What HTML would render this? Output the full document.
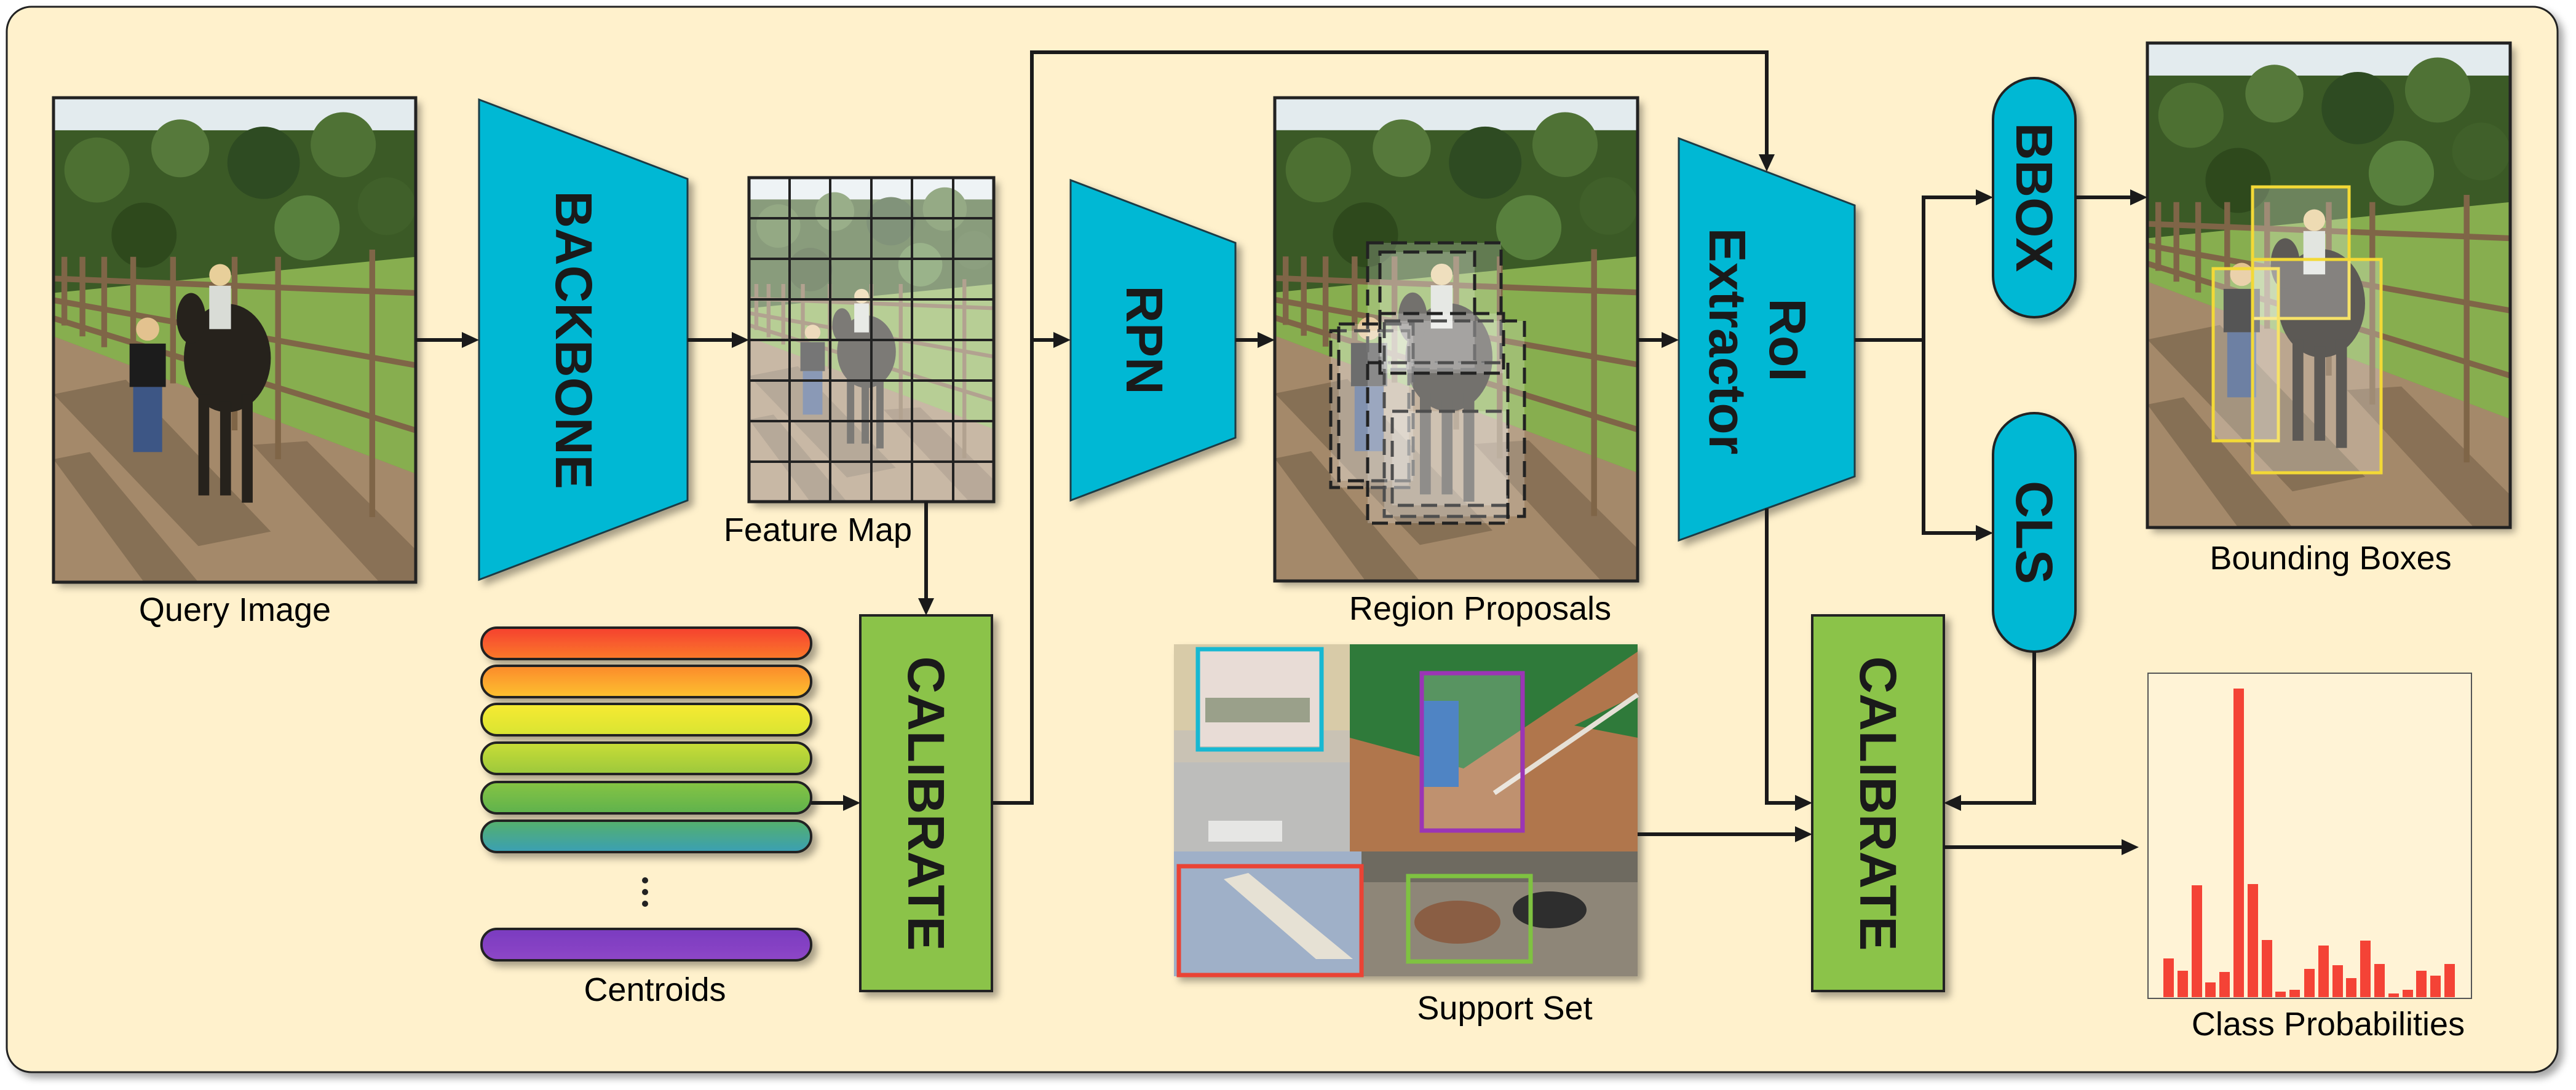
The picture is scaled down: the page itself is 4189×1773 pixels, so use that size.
<!DOCTYPE html>
<html><head><meta charset="utf-8"><style>
html,body{margin:0;padding:0;background:#fff;}
svg{display:block;}
text{font-family:"Liberation Sans",sans-serif;}
</style></head><body>
<svg width="4189" height="1773" viewBox="0 0 4189 1773" xmlns="http://www.w3.org/2000/svg">
<defs>
<filter id="sh" x="-10%" y="-10%" width="130%" height="130%">
<feDropShadow dx="8" dy="8" stdDeviation="6" flood-color="#000" flood-opacity="0.35"/>
</filter>
<marker id="ar" markerWidth="10" markerHeight="10" refX="9" refY="5" orient="auto" markerUnits="userSpaceOnUse" viewBox="0 0 10 10">
</marker>
<symbol id="scene" viewBox="0 0 100 134" preserveAspectRatio="none">
<rect width="100" height="134" fill="#6f8f42"/>
<rect width="100" height="14" fill="#e3ebee"/>
<rect y="9" width="100" height="45" fill="#3b5a28"/>
<circle cx="12" cy="20" r="9" fill="#4d6f33"/><circle cx="35" cy="14" r="8" fill="#56793a"/><circle cx="58" cy="18" r="10" fill="#2f4b20"/><circle cx="80" cy="13" r="9" fill="#4f7236"/><circle cx="92" cy="30" r="8" fill="#3f6029"/><circle cx="25" cy="38" r="9" fill="#2e4a1f"/><circle cx="70" cy="36" r="9" fill="#58803c"/>
<polygon points="0,54 100,44 100,104 0,66" fill="#87ae50"/>
<polygon points="0,66 100,104 100,134 0,134" fill="#a4896a"/>
<polygon points="0,82 20,78 60,120 40,124" fill="#6e5a42" opacity="0.55"/>
<polygon points="0,100 10,98 40,134 25,134" fill="#6e5a42" opacity="0.55"/>
<polygon points="55,96 70,95 100,125 100,134 90,134" fill="#6e5a42" opacity="0.5"/>
<g stroke="#7f6546" stroke-width="1.6" fill="none">
<line x1="0" y1="50" x2="100" y2="54"/><line x1="0" y1="56" x2="100" y2="74"/><line x1="0" y1="61" x2="100" y2="92"/>
<line x1="3" y1="44" x2="3" y2="63"/><line x1="8" y1="44" x2="8" y2="66"/><line x1="14" y1="44" x2="14" y2="69"/><line x1="22" y1="44" x2="22" y2="72"/><line x1="33" y1="44" x2="33" y2="79"/><line x1="50" y1="44" x2="50" y2="92"/><line x1="62" y1="44" x2="62" y2="100"/><line x1="88" y1="42" x2="88" y2="116"/>
</g>
<ellipse cx="48" cy="72" rx="12" ry="15" fill="#25221f"/>
<ellipse cx="38" cy="61" rx="4" ry="7" fill="#25221f"/>
<rect x="40" y="82" width="3" height="28" fill="#25221f"/><rect x="52" y="82" width="3" height="30" fill="#25221f"/><rect x="46" y="84" width="3" height="26" fill="#25221f"/>
<rect x="43" y="52" width="6" height="12" fill="#d9dcd6"/><circle cx="46" cy="49" r="3" fill="#e8cf9a"/>
<rect x="21" y="68" width="10" height="12" fill="#1b1b1b"/><rect x="22" y="80" width="8" height="18" fill="#3c5785"/><circle cx="26" cy="64" r="3.2" fill="#e3c28f"/>
</symbol>
</defs>

<!-- panel -->
<rect x="11" y="11" width="4148" height="1733" rx="40" fill="#fff1cc" stroke="#222" stroke-width="3" filter="url(#sh)"/>

<!-- Query image -->
<g filter="url(#sh)"><use href="#scene" x="87" y="159" width="589" height="788"/></g>
<rect x="87" y="159" width="589" height="788" fill="none" stroke="#222" stroke-width="5"/>
<text x="382" y="1010" font-size="54" text-anchor="middle">Query Image</text>

<!-- Backbone -->
<polygon points="779,162 1118,291 1118,814 779,943" fill="#00b8d4" stroke="#1a3a44" stroke-width="3" filter="url(#sh)"/>
<text transform="translate(933,553) rotate(90)" font-size="84" font-weight="bold" text-anchor="middle" dominant-baseline="central" fill="#1a1a1a">BACKBONE</text>

<!-- Feature map -->
<g filter="url(#sh)"><use href="#scene" x="1218" y="289" width="398" height="527"/></g>
<rect x="1218" y="289" width="398" height="527" fill="#fff" opacity="0.4"/>
<g stroke="#222" stroke-width="4">
<line x1="1284" y1="289" x2="1284" y2="816"/><line x1="1350" y1="289" x2="1350" y2="816"/><line x1="1417" y1="289" x2="1417" y2="816"/><line x1="1483" y1="289" x2="1483" y2="816"/><line x1="1550" y1="289" x2="1550" y2="816"/>
<line x1="1218" y1="355" x2="1616" y2="355"/><line x1="1218" y1="421" x2="1616" y2="421"/><line x1="1218" y1="487" x2="1616" y2="487"/><line x1="1218" y1="553" x2="1616" y2="553"/><line x1="1218" y1="619" x2="1616" y2="619"/><line x1="1218" y1="685" x2="1616" y2="685"/><line x1="1218" y1="751" x2="1616" y2="751"/>
</g>
<rect x="1218" y="289" width="398" height="527" fill="none" stroke="#222" stroke-width="5"/>
<text x="1330" y="880" font-size="54" text-anchor="middle">Feature Map</text>

<!-- Centroids -->
<defs>
<linearGradient id="g1" x1="0" y1="0" x2="0" y2="1"><stop offset="0" stop-color="#f5402f"/><stop offset="1" stop-color="#fb7a2b"/></linearGradient>
<linearGradient id="g2" x1="0" y1="0" x2="0" y2="1"><stop offset="0" stop-color="#fb8a2c"/><stop offset="1" stop-color="#fdc12e"/></linearGradient>
<linearGradient id="g3" x1="0" y1="0" x2="0" y2="1"><stop offset="0" stop-color="#f8ea30"/><stop offset="1" stop-color="#d8e431"/></linearGradient>
<linearGradient id="g4" x1="0" y1="0" x2="0" y2="1"><stop offset="0" stop-color="#c9dd36"/><stop offset="1" stop-color="#9cc83c"/></linearGradient>
<linearGradient id="g5" x1="0" y1="0" x2="0" y2="1"><stop offset="0" stop-color="#86c442"/><stop offset="1" stop-color="#5fb24e"/></linearGradient>
<linearGradient id="g6" x1="0" y1="0" x2="0" y2="1"><stop offset="0" stop-color="#55b06c"/><stop offset="1" stop-color="#3a9fb4"/></linearGradient>
<linearGradient id="g7" x1="0" y1="0" x2="0" y2="1"><stop offset="0" stop-color="#7a3cc0"/><stop offset="1" stop-color="#8e46c6"/></linearGradient>
</defs>
<g stroke="#222" stroke-width="4" filter="url(#sh)">
<rect x="783" y="1021" width="536" height="51" rx="25" fill="url(#g1)"/>
<rect x="783" y="1083" width="536" height="51" rx="25" fill="url(#g2)"/>
<rect x="783" y="1145" width="536" height="51" rx="25" fill="url(#g3)"/>
<rect x="783" y="1208" width="536" height="51" rx="25" fill="url(#g4)"/>
<rect x="783" y="1272" width="536" height="51" rx="25" fill="url(#g5)"/>
<rect x="783" y="1335" width="536" height="51" rx="25" fill="url(#g6)"/>
<rect x="783" y="1511" width="536" height="51" rx="25" fill="url(#g7)"/>
</g>
<g fill="#222"><circle cx="1049" cy="1432" r="5"/><circle cx="1049" cy="1451" r="5"/><circle cx="1049" cy="1470" r="5"/></g>
<text x="1065" y="1628" font-size="54" text-anchor="middle">Centroids</text>

<!-- Calibrate 1 -->
<rect x="1399" y="1001" width="214" height="611" fill="#8bc34a" stroke="#222" stroke-width="4" filter="url(#sh)"/>
<text transform="translate(1506,1307) rotate(90)" font-size="84" font-weight="bold" text-anchor="middle" dominant-baseline="central" fill="#1a1a1a">CALIBRATE</text>

<!-- RPN -->
<polygon points="1741,293 2009,395 2009,712 1741,814" fill="#00b8d4" stroke="#1a3a44" stroke-width="3" filter="url(#sh)"/>
<text transform="translate(1861,553) rotate(90)" font-size="84" font-weight="bold" text-anchor="middle" dominant-baseline="central" fill="#1a1a1a">RPN</text>

<!-- Region proposals -->
<g filter="url(#sh)"><use href="#scene" x="2073" y="159" width="590" height="786"/></g>
<g fill="#fff" fill-opacity="0.2" stroke="#222" stroke-width="5" stroke-dasharray="26,12">
<rect x="2224" y="395" width="217" height="195"/>
<rect x="2244" y="410" width="154" height="191"/>
<rect x="2164" y="538" width="127" height="255"/>
<rect x="2177" y="527" width="121" height="255"/>
<rect x="2251" y="522" width="228" height="318"/>
<rect x="2264" y="669" width="188" height="153"/>
<rect x="2224" y="590" width="228" height="261"/>
<rect x="2244" y="510" width="201" height="97"/>
</g>
<rect x="2073" y="159" width="590" height="786" fill="none" stroke="#222" stroke-width="5"/>
<text x="2407" y="1008" font-size="54" text-anchor="middle">Region Proposals</text>

<!-- RoI extractor -->
<polygon points="2730,225 3016,334 3016,775 2730,879" fill="#00b8d4" stroke="#1a3a44" stroke-width="3" filter="url(#sh)"/>
<text transform="translate(2907,553) rotate(90)" font-size="84" font-weight="bold" text-anchor="middle" dominant-baseline="central" fill="#1a1a1a">RoI</text>
<text transform="translate(2809,555) rotate(90)" font-size="84" font-weight="bold" text-anchor="middle" dominant-baseline="central" fill="#1a1a1a">Extractor</text>

<!-- BBOX / CLS -->
<rect x="3241" y="127" width="134" height="389" rx="67" fill="#00b8d4" stroke="#222" stroke-width="4" filter="url(#sh)"/>
<text transform="translate(3308,321) rotate(90)" font-size="84" font-weight="bold" text-anchor="middle" dominant-baseline="central" fill="#1a1a1a">BBOX</text>
<rect x="3241" y="672" width="134" height="388" rx="67" fill="#00b8d4" stroke="#222" stroke-width="4" filter="url(#sh)"/>
<text transform="translate(3308,866) rotate(90)" font-size="84" font-weight="bold" text-anchor="middle" dominant-baseline="central" fill="#1a1a1a">CLS</text>

<!-- Bounding boxes image -->
<g filter="url(#sh)"><use href="#scene" x="3492" y="70" width="590" height="788"/></g>
<g fill="#fff" fill-opacity="0.25" stroke="#f3d936" stroke-width="5">
<rect x="3663" y="304" width="157" height="214"/>
<rect x="3599" y="437" width="106" height="280"/>
<rect x="3663" y="422" width="209" height="347"/>
</g>
<rect x="3492" y="70" width="590" height="788" fill="none" stroke="#222" stroke-width="5"/>
<text x="3790" y="926" font-size="54" text-anchor="middle">Bounding Boxes</text>

<!-- Calibrate 2 -->
<rect x="2947" y="1001" width="214" height="611" fill="#8bc34a" stroke="#222" stroke-width="4" filter="url(#sh)"/>
<text transform="translate(3054,1307) rotate(90)" font-size="84" font-weight="bold" text-anchor="middle" dominant-baseline="central" fill="#1a1a1a">CALIBRATE</text>

<!-- Support set -->
<g filter="url(#sh)">
<rect x="1909" y="1048" width="754" height="540" fill="#8c8a85"/>
</g>
<rect x="1909" y="1048" width="286" height="337" fill="#c9c2b4"/>
<rect x="1909" y="1048" width="286" height="140" fill="#d8cba8"/>
<rect x="1909" y="1240" width="286" height="145" fill="#bdbdbb"/>
<rect x="1950" y="1058" width="198" height="156" fill="#e8dcd6"/>
<rect x="1960" y="1135" width="170" height="40" fill="#9aa08a"/>
<rect x="1965" y="1335" width="120" height="34" fill="#e6e6e4"/>
<rect x="2195" y="1048" width="468" height="337" fill="#b0764c"/>
<polygon points="2195,1048 2663,1048 2663,1060 2380,1250 2195,1200" fill="#2f7a3a"/>
<polygon points="2560,1180 2663,1130 2663,1200" fill="#2f7a3a"/>
<line x1="2430" y1="1290" x2="2663" y2="1130" stroke="#e6e0d6" stroke-width="8"/>
<rect x="1909" y="1385" width="305" height="203" fill="#9fb0c8"/>
<polygon points="1990,1430 2140,1560 2200,1560 2030,1420" fill="#e6e1d4"/>
<rect x="2214" y="1385" width="449" height="203" fill="#8e8678"/>
<rect x="2214" y="1385" width="449" height="50" fill="#6e6a60"/>
<ellipse cx="2370" cy="1500" rx="70" ry="35" fill="#8a5e44"/>
<ellipse cx="2520" cy="1480" rx="60" ry="30" fill="#2e2e2e"/>
<rect x="2312" y="1095" width="160" height="256" fill="#fff" fill-opacity="0.2"/>
<rect x="2312" y="1140" width="60" height="140" fill="#4f84c4"/>
<g fill="none" stroke-width="7">
<rect x="1948" y="1056" width="201" height="163" stroke="#17b8d2"/>
<rect x="2312" y="1095" width="164" height="256" stroke="#9b35b5"/>
<rect x="1917" y="1409" width="297" height="177" stroke="#ea4335"/>
<rect x="2290" y="1425" width="199" height="139" stroke="#7fc241"/>
</g>
<text x="2447" y="1658" font-size="54" text-anchor="middle">Support Set</text>

<!-- Class probabilities -->
<rect x="3493" y="1095" width="526" height="529" fill="#fff3d6" stroke="#555" stroke-width="2"/>
<g fill="#f44336">
<rect x="3518" y="1559" width="17" height="63"/>
<rect x="3541" y="1579" width="17" height="43"/>
<rect x="3564" y="1440" width="17" height="182"/>
<rect x="3586" y="1598" width="17" height="24"/>
<rect x="3609" y="1581" width="17" height="41"/>
<rect x="3632" y="1120" width="17" height="502"/>
<rect x="3655" y="1438" width="17" height="184"/>
<rect x="3678" y="1529" width="17" height="93"/>
<rect x="3700" y="1613" width="17" height="9"/>
<rect x="3723" y="1610" width="17" height="12"/>
<rect x="3747" y="1576" width="17" height="46"/>
<rect x="3770" y="1538" width="17" height="84"/>
<rect x="3793" y="1570" width="17" height="52"/>
<rect x="3815" y="1591" width="17" height="31"/>
<rect x="3838" y="1530" width="17" height="92"/>
<rect x="3861" y="1568" width="17" height="54"/>
<rect x="3884" y="1616" width="17" height="6"/>
<rect x="3907" y="1610" width="17" height="12"/>
<rect x="3929" y="1579" width="17" height="43"/>
<rect x="3952" y="1587" width="17" height="35"/>
<rect x="3975" y="1568" width="17" height="54"/>
</g>
<text x="3786" y="1684" font-size="54" text-anchor="middle">Class Probabilities</text>

<!-- connectors -->
<g stroke="#1a1a1a" stroke-width="6" fill="none">
<line x1="676" y1="553" x2="752" y2="553"/>
<line x1="1118" y1="553" x2="1192" y2="553"/>
<line x1="1506" y1="816" x2="1506" y2="976"/>
<line x1="1319" y1="1306" x2="1372" y2="1306"/>
<polyline points="1613,1306 1678,1306 1678,85 2873,85 2873,252"/>
<line x1="1678" y1="553" x2="1714" y2="553"/>
<line x1="2009" y1="553" x2="2046" y2="553"/>
<line x1="2663" y1="553" x2="2703" y2="553"/>
<polyline points="3016,553 3128,553"/>
<polyline points="3214,321 3128,321 3128,867 3214,867"/>
<line x1="3375" y1="321" x2="3464" y2="321"/>
<polyline points="2873,827 2873,1306 2920,1306"/>
<polyline points="3308,1060 3308,1306 3188,1306"/>
<line x1="2663" y1="1357" x2="2920" y2="1357"/>
<line x1="3161" y1="1378" x2="3450" y2="1378"/>
</g>
<g fill="#1a1a1a">
<polygon points="779,553 751,540 751,566"/>
<polygon points="1218,553 1190,540 1190,566"/>
<polygon points="1506,1001 1493,973 1519,973"/>
<polygon points="1399,1306 1371,1293 1371,1319"/>
<polygon points="2873,279 2860,251 2886,251"/>
<polygon points="1741,553 1713,540 1713,566"/>
<polygon points="2073,553 2045,540 2045,566"/>
<polygon points="2730,553 2702,540 2702,566"/>
<polygon points="3241,321 3213,308 3213,334"/>
<polygon points="3241,867 3213,854 3213,880"/>
<polygon points="3492,321 3464,308 3464,334"/>
<polygon points="2947,1306 2919,1293 2919,1319"/>
<polygon points="3161,1306 3189,1293 3189,1319"/>
<polygon points="2947,1357 2919,1344 2919,1370"/>
<polygon points="3478,1378 3450,1365 3450,1391"/>
</g>
</svg>
</body></html>
